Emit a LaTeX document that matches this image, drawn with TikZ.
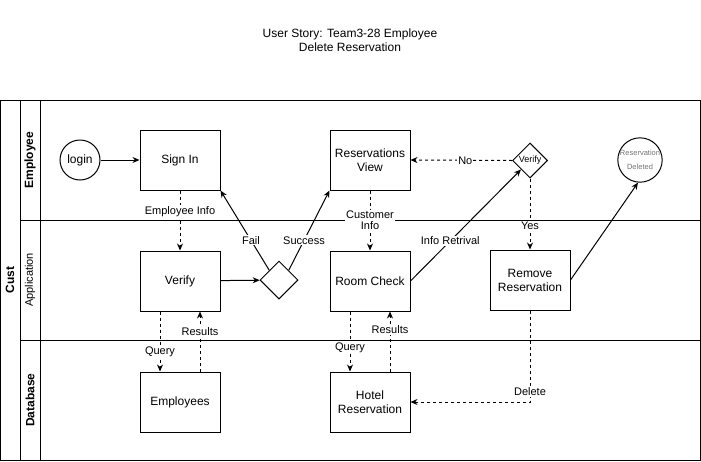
\documentclass[tikz,border=0pt]{standalone}
\usepackage{fontspec}
\setmainfont{Liberation Sans}
\usepackage{tikz}
\usetikzlibrary{positioning, arrows.meta, shapes.geometric}

\begin{document}
\begin{tikzpicture}[
    x=1pt, y=-1pt,
    >=Stealth,
    line width=1pt,
    box/.style={draw, minimum width=80pt, minimum height=60pt, align=center,
                font=\fontsize{12}{14}\selectfont, inner sep=2pt},
    startend/.style={draw, circle, minimum size=40pt, inner sep=0pt, align=center},
    decide/.style={draw, diamond, aspect=1, inner sep=0pt},
    lbl/.style={fill=white, inner sep=1pt, font=\fontsize{11}{13}\selectfont, align=center},
    lane/.style={rotate=90, font=\fontsize{12}{14}\selectfont},
    arr/.style={draw, -{Stealth[length=7pt, width=6pt]}},
    dasharr/.style={draw, -{Stealth[length=7pt, width=6pt]}, dash pattern=on 3pt off 3pt},
]
\useasboundingbox (0,0) rectangle (701,461);

% --- Title ---
\node[align=center, font=\fontsize{12}{14}\selectfont] (title) at (350,40)
  {User Story: Team3-28 Employee\\Delete Reservation};

% --- Pool and lanes ---
\draw (0.5,100) rectangle (700,460);
\draw (20,100) -- (20,460);
\draw (40,100) -- (40,460);
\draw (20,220) -- (700,220);
\draw (20,340) -- (700,340);
\node[lane, font=\fontsize{12}{14}\bfseries] (pool) at (10,280) {Cust};
\node[lane, font=\fontsize{12}{14}\bfseries] (laneemp) at (30,160) {Employee};
\node[lane, font=\fontsize{11}{13}\selectfont] (laneapp) at (30,280) {Application};
\node[lane, font=\fontsize{12}{14}\bfseries] (lanedb) at (30,400) {Database};

% --- Employee lane ---
\node[startend, font=\fontsize{12}{14}\selectfont] (login) at (80,160) {login};
\node[box] (signin) at (180,160) {Sign In};
\node[box] (resview) at (370,160) {Reservations\\View};
\node[decide, minimum size=35pt, font=\fontsize{9}{10}\selectfont] (check) at (530,160.5) {Verify};
\node[startend, text=black!55, font=\fontsize{7.5}{14}\selectfont] (deleted) at (640,160)
  {Reservation\\Deleted};

% --- Application lane ---
\node[box, below=60pt of signin] (verify) {Verify};
\node[decide, minimum size=38pt] (result) at (279,280) {};
\node[box, below=60pt of resview] (roomcheck) {Room Check};
\node[box] (remove) at (530,280) {Remove\\Reservation};

% --- Database lane ---
\node[box, below=60pt of verify] (employees) {Employees};
\node[box, below=60pt of roomcheck] (hotel) {Hotel\\Reservation};

% --- Arrows ---
\draw[arr] (login) -- (signin);
\draw[dasharr] (signin) -- node[lbl, pos=0.35] {Employee Info} (verify);
\draw[arr] (verify) -- (result);
\draw[arr] (result.north west) -- node[lbl, pos=0.375] {Fail} (signin.south east);
\draw[arr] (result.north east) -- node[lbl, pos=0.375] {Success} (resview.south west);
\draw[dasharr] (resview) -- node[lbl] {Customer\\[-2pt]Info} (roomcheck);
\draw[arr] (roomcheck.east) -- node[lbl, pos=0.36] {Info Retrival} (check.south west);
\draw[dasharr] (check.west) -- node[lbl, pos=0.46] {No} (resview.east);
\draw[dasharr] (check.south) -- node[lbl, pos=0.67] {Yes} (remove.north);
\draw[arr] (remove.east) -- (deleted.-95);

% Database queries
\draw[dasharr] ([xshift=-20pt]verify.south) -- node[lbl, pos=0.67] {Query}
  ([xshift=-20pt]employees.north);
\draw[dasharr] ([xshift=20pt]employees.north) -- node[lbl, pos=0.67] {Results}
  ([xshift=20pt]verify.south);
\draw[dasharr] ([xshift=-20pt]roomcheck.south) -- node[lbl, pos=0.6] {Query}
  ([xshift=-20pt]hotel.north);
\draw[dasharr] ([xshift=20pt]hotel.north) -- node[lbl, pos=0.7] {Results}
  ([xshift=20pt]roomcheck.south);
\draw[dasharr] (remove.south) |- node[lbl, pos=0.444] {Delete} (hotel.east);
\end{tikzpicture}
\end{document}
